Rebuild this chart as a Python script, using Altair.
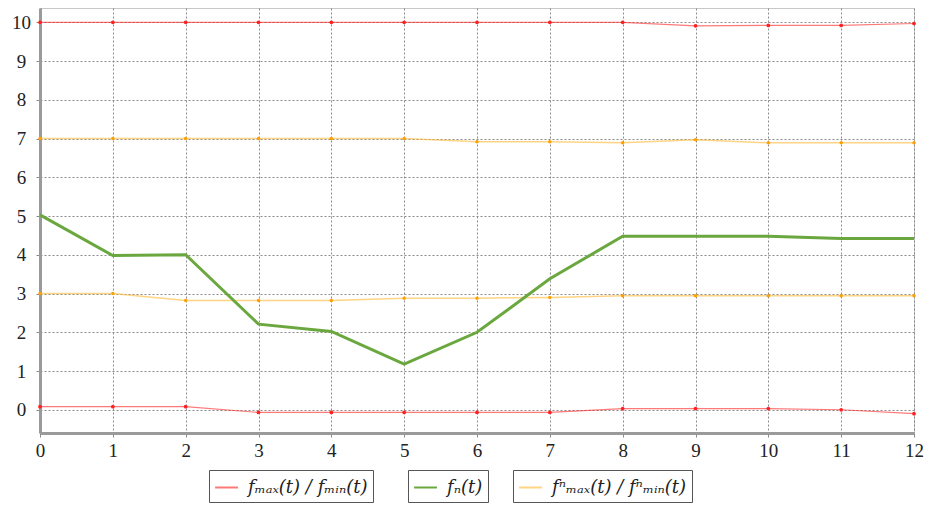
import altair as alt
import pandas as pd

t = list(range(13))
f_max = [10, 10, 10, 10, 10, 10, 10, 10, 10, 9.91, 9.92, 9.92, 9.97]
f_min = [0.08, 0.08, 0.08, -0.07, -0.07, -0.07, -0.07, -0.07, 0.03, 0.03, 0.03, 0.0, -0.1]
f_n = [5.03, 3.98, 4.0, 2.21, 2.02, 1.18, 2.0, 3.38, 4.48, 4.48, 4.48, 4.42, 4.42]
fn_max = [7.0, 7.0, 7.0, 7.0, 7.0, 7.0, 6.92, 6.92, 6.89, 6.97, 6.89, 6.89, 6.89]
fn_min = [3.0, 3.0, 2.82, 2.82, 2.82, 2.88, 2.88, 2.9, 2.94, 2.94, 2.94, 2.94, 2.94]

lab_red = "fₘₐₓ(t) / fₘᵢₙ(t)"
lab_green = "fₙ(t)"
lab_orange = "fⁿₘₐₓ(t) / fⁿₘᵢₙ(t)"

rows = []
for name, lab, vals in [("fmax", lab_red, f_max), ("fmin", lab_red, f_min),
                        ("fn", lab_green, f_n),
                        ("fnmax", lab_orange, fn_max), ("fnmin", lab_orange, fn_min)]:
    for ti, v in zip(t, vals):
        rows.append({"t": ti, "value": v, "series": lab, "line": name})
df = pd.DataFrame(rows)

RED = "#ff2020"
GREEN = "#6aa83f"
ORANGE = "#ffb833"
SERIF = "'Liberation Serif', 'DejaVu Serif', serif"
LEGEND_FONT = "'DejaVu Serif', 'Liberation Serif', serif"

x_enc = alt.X("t:Q", scale=alt.Scale(domain=[0, 12], nice=False),
              axis=alt.Axis(values=t, title=None))
y_enc = alt.Y("value:Q", scale=alt.Scale(domain=[-0.6, 10.37], nice=False, zero=False),
              axis=alt.Axis(values=list(range(11)), title=None))

base = alt.Chart(df)

def legend(x):
    return alt.Legend(title=None, orient="none", legendX=x, legendY=462,
                      strokeColor="#555", padding=5, symbolType="stroke",
                      symbolSize=520, symbolStrokeWidth=2,
                      labelFont=LEGEND_FONT, labelFontStyle="italic",
                      labelFontSize=18, labelColor="#222", labelOffset=9)

red_line = base.transform_filter(alt.datum.series == lab_red).mark_line(
    strokeWidth=1.2, opacity=0.6).encode(
    x=x_enc, y=y_enc, detail="line:N",
    color=alt.Color("series:N", scale=alt.Scale(domain=[lab_red], range=[RED]), legend=legend(169)))
red_pts = base.transform_filter(alt.datum.series == lab_red).mark_point(
    filled=True, size=14, opacity=1).encode(x=x_enc, y=y_enc, color=alt.value(RED))

green_line = base.transform_filter(alt.datum.series == lab_green).mark_line(
    strokeWidth=3).encode(
    x=x_enc, y=y_enc, detail="line:N",
    color=alt.Color("series:N", scale=alt.Scale(domain=[lab_green], range=[GREEN]), legend=legend(368)))

orange_line = base.transform_filter(alt.datum.series == lab_orange).mark_line(
    strokeWidth=1.5, opacity=0.6).encode(
    x=x_enc, y=y_enc, detail="line:N",
    color=alt.Color("series:N", scale=alt.Scale(domain=[lab_orange], range=[ORANGE]), legend=legend(473)))
orange_pts = base.transform_filter(alt.datum.series == lab_orange).mark_point(
    filled=True, size=12, opacity=1).encode(x=x_enc, y=y_enc, color=alt.value("#ffa000"))

chart = alt.layer(red_line, red_pts, orange_line, orange_pts, green_line).resolve_scale(
    color="independent"
).properties(
    width=874, height=425,
    autosize=alt.AutoSizeParams(type="none"),
    padding={"left": 32, "top": 0, "right": 10, "bottom": 72},
).configure_view(
    stroke="#c8c8c8", strokeWidth=1
).configure_axis(
    labelFont=SERIF, labelFontSize=19, labelColor="#222",
    grid=True, gridColor="#8a8a8a", gridDash=[2, 2], gridWidth=1,
    domainColor="#9a9a9a", domainWidth=3,
    tickColor="#888", tickSize=4,
).configure_axisY(
    labelAlign="center", labelPadding=15,
).configure_axisX(
    labelPadding=4, labelFlush=False,
)

chart.save("out.html", embed_options={"renderer": "svg", "actions": False})
